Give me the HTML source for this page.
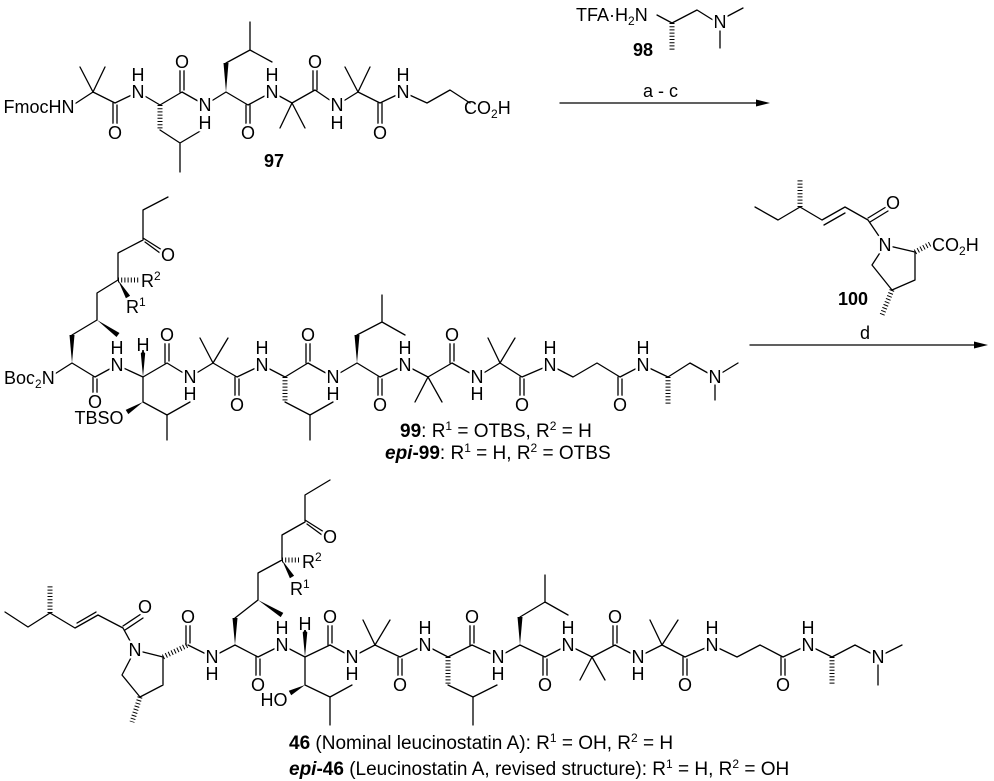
<!DOCTYPE html>
<html><head><meta charset="utf-8"><style>
html,body{margin:0;padding:0;background:#fff;}
svg{display:block;}
.b{stroke:#000;stroke-width:1.3;fill:none;stroke-linecap:round;stroke-linejoin:round;}
.h{stroke:#000;stroke-width:5;fill:none;stroke-dasharray:1 2.2;}
.w{fill:#000;stroke:none;}
text{font-family:"Liberation Sans",Arial,sans-serif;font-size:18px;fill:#000;}
.a{text-anchor:middle;dominant-baseline:central;stroke:#fff;stroke-width:5;paint-order:stroke;stroke-linejoin:round;}
.s{font-size:12px;}
.bd{font-weight:bold;}
.L{font-size:19px;}
</style></head><body>
<svg width="994" height="781" viewBox="0 0 994 781" xmlns="http://www.w3.org/2000/svg">
<!-- ===== Row 1: 97 ===== -->
<path class="b" d="M70,107 L93,92 L115,103 L138,92 L160,105 L182,92 L205,105 L226,92 L248,105 L272,92 L292,103 L315,90 L337,105 L358,92 L380,103 L403,92 L427,103 L450,90 L470,103"/>
<path class="b" d="M93,92 L80,67 M93,92 L105,67
M113,103 L113,125 M117,105 L117,125
M180,92 L180,70 M184,90 L184,70
M160,130 L180,143 L202,130 M180,143 L180,172
M226,63 L250,50 L250,22 M250,50 L272,62
M246,105 L246,125 M250,105 L250,125
M292,103 L280,128 M292,103 L305,128
M313,90 L313,70 M317,90 L317,70
M358,92 L345,67 M358,92 L370,67
M378,103 L378,125 M382,103 L382,125"/>
<path class="h" d="M160,105 L160,130"/>
<polygon class="w" points="226,92 223.5,63 228.5,63"/>
<text class="a" x="39" y="107">FmocHN</text>
<text class="a" x="115" y="133">O</text>
<text class="a" x="138" y="92">N</text><text class="a" x="138" y="75">H</text>
<text class="a" x="182" y="62">O</text>
<text class="a" x="205" y="105">N</text><text class="a" x="205" y="123">H</text>
<text class="a" x="248" y="133">O</text>
<text class="a" x="272" y="92">N</text><text class="a" x="272" y="75">H</text>
<text class="a" x="315" y="62">O</text>
<text class="a" x="337" y="105">N</text><text class="a" x="337" y="123">H</text>
<text class="a" x="380" y="133">O</text>
<text class="a" x="403" y="92">N</text><text class="a" x="403" y="75">H</text>
<text x="464" y="114">CO<tspan class="s" dy="4">2</tspan><tspan dy="-4">H</tspan></text>
<text class="bd" x="264" y="167">97</text>

<!-- 98 -->
<path class="b" d="M657,15 L672,23 L697,10 L713,20 M726,17 L743,8 M720,31 L720,48"/>
<path class="h" d="M672,23 L672,50"/>
<text x="576" y="21">TFA·H<tspan class="s" dy="4">2</tspan><tspan dy="-4">N</tspan></text>
<text class="a" x="720" y="22">N</text>
<text class="bd" x="633" y="56">98</text>
<!-- arrow 1 -->
<path class="b" d="M560,103 L760,103"/>
<polygon class="w" points="770,103 756,99.5 756,106.5"/>
<text x="643" y="97">a - c</text>

<!-- ===== Row 2: 99 ===== -->
<path class="b" d="M50,377 L72,363 L95,377 L117,365 L143,377 L167,363 L190,377 L213,363 L237,377 L262,365 L285,377 L308,363 L333,377 L357,363 L380,377 L405,365 L428,377 L452,363 L477,377 L500,363 L522,377 L550,365 L573,377 L597,363 L620,377 L643,365 L668,377 L690,363 L715,377 L738,363"/>
<path class="b" d="M72,335 L97,320 L97,293 L118,280 L118,253 L143,240 L143,210 L168,197
M143,238 L162,250 M145,242 L160,253
M143,377 L143,402 L167,415 L190,402 M167,415 L167,440
M93,377 L93,396 M97,379 L97,396
M165,363 L165,342 M169,361 L169,342
M213,363 L200,338 M213,363 L228,338
M235,377 L235,398 M239,379 L239,398
M285,402 L310,415 L333,402 M310,415 L310,440
M306,363 L306,342 M310,361 L310,342
M357,335 L382,322 L382,295 M382,322 L405,335
M378,377 L378,398 M382,379 L382,398
M428,377 L415,402 M428,377 L442,402
M450,363 L450,342 M454,361 L454,342
M500,363 L488,338 M500,363 L515,338
M520,377 L520,398 M524,379 L524,398
M618,377 L618,398 M622,379 L622,398
M715,385 L715,400"/>
<path class="h" d="M118,280 L140,280 M285,377 L285,402 M668,377 L668,405"/>
<polygon class="w" points="72,363 69.5,335 74.5,335"/>
<polygon class="w" points="97,320 116.5,337 119.5,333"/>
<polygon class="w" points="118,280 125.9,298.3 130.1,295.7"/>
<polygon class="w" points="143,377 140.5,350 145.5,350"/>
<polygon class="w" points="143,402 128.3,414.1 125.7,409.9"/>
<polygon class="w" points="357,363 354.5,335 359.5,335"/>
<text class="a" x="168" y="255">O</text>
<text x="141" y="287">R<tspan class="s" dy="-7">2</tspan></text>
<text x="126" y="313">R<tspan class="s" dy="-7">1</tspan></text>
<text x="4" y="384" style="stroke:#fff;stroke-width:5;paint-order:stroke">Boc<tspan class="s" dy="4">2</tspan><tspan dy="-4">N</tspan></text>
<text class="a" x="95" y="402">O</text>
<text class="a" x="99" y="418">TBSO</text>
<text class="a" x="117" y="365">N</text><text class="a" x="117" y="348">H</text>
<text class="a" x="143" y="345">H</text>
<text class="a" x="167" y="335">O</text>
<text class="a" x="190" y="377">N</text><text class="a" x="190" y="394">H</text>
<text class="a" x="237" y="405">O</text>
<text class="a" x="262" y="365">N</text><text class="a" x="262" y="348">H</text>
<text class="a" x="308" y="335">O</text>
<text class="a" x="333" y="377">N</text><text class="a" x="333" y="394">H</text>
<text class="a" x="380" y="405">O</text>
<text class="a" x="405" y="365">N</text><text class="a" x="405" y="348">H</text>
<text class="a" x="452" y="335">O</text>
<text class="a" x="477" y="377">N</text><text class="a" x="477" y="394">H</text>
<text class="a" x="522" y="405">O</text>
<text class="a" x="550" y="365">N</text><text class="a" x="550" y="348">H</text>
<text class="a" x="620" y="405">O</text>
<text class="a" x="643" y="365">N</text><text class="a" x="643" y="348">H</text>
<text class="a" x="715" y="377">N</text>
<text class="L" x="400" y="437"><tspan class="bd">99</tspan>: R<tspan class="s" dy="-7">1</tspan><tspan dy="7"> = OTBS, R</tspan><tspan class="s" dy="-7">2</tspan><tspan dy="7"> = H</tspan></text>
<text class="L" x="385" y="459"><tspan class="bd" font-style="italic">epi</tspan><tspan class="bd">-99</tspan>: R<tspan class="s" dy="-7">1</tspan><tspan dy="7"> = H, R</tspan><tspan class="s" dy="-7">2</tspan><tspan dy="7"> = OTBS</tspan></text>

<!-- 100 -->
<path class="b" d="M755,207 L778,220 L800,207 L822,220 L845,207 L868,220 L885,245
M824,225 L845,213
M868,218 L886,207 M870,222 L888,211
M885,245 L915,252 L915,280 L892,290 L872,265 L885,245"/>
<path class="h" d="M800,207 L800,180 M915,252 L932,243 M892,290 L882,315"/>
<text class="a" x="893" y="203">O</text>
<text class="a" x="885" y="245">N</text>
<text x="932" y="251">CO<tspan class="s" dy="4">2</tspan><tspan dy="-4">H</tspan></text>
<text class="bd" x="838" y="305">100</text>
<text x="860" y="339">d</text>
<path class="b" d="M750,345 L978,345"/>
<polygon class="w" points="988,345 974,341.5 974,348.5"/>

<!-- ===== Row 3: 46 ===== -->
<path class="b" d="M5,612 L28,627 L50,613 L75,628 L98,615 L123,628 L135,650
M77,623 L96,612
M123,626 L141,614 M125,630 L143,618
M135,650 L163,657 L163,685 L140,697 L122,675 L135,650
M188,645 L212,657 L235,645 L258,657 L282,645 L305,657 L330,645 L352,657 L375,645 L400,657 L425,645 L448,657 L472,645 L498,657 L520,645 L545,657 L568,645 L592,657 L615,645 L638,657 L662,645 L685,657 L712,645 L737,657 L760,645 L783,657 L808,645 L832,657 L855,645 L878,657 L902,645
M186,645 L186,624 M190,643 L190,624
M235,618 L258,600 L258,573 L282,560 L282,535 L305,522 L305,495 L330,480
M305,520 L324,532 M307,524 L322,535
M256,657 L256,678 M260,659 L260,678
M328,645 L328,624 M332,643 L332,624
M305,657 L305,685 L330,697 L352,685 M330,697 L330,725
M375,645 L363,620 M375,645 L390,620
M398,657 L398,678 M402,659 L402,678
M448,685 L473,697 L497,685 M473,697 L473,725
M470,645 L470,624 M474,643 L474,624
M520,617 L545,602 L545,575 M545,602 L568,615
M543,657 L543,678 M547,659 L547,678
M592,657 L580,680 M592,657 L605,680
M613,645 L613,624 M617,643 L617,624
M662,645 L650,620 M662,645 L678,620
M683,657 L683,678 M687,659 L687,678
M781,657 L781,678 M785,659 L785,678
M878,665 L878,685"/>
<path class="h" d="M50,613 L50,585 M140,697 L132,722 M163,657 L188,645 M282,560 L300,560 M448,657 L448,685 M832,657 L832,685"/>
<polygon class="w" points="235,645 232.5,618 237.5,618"/>
<polygon class="w" points="258,600 280.7,617.1 283.3,612.9"/>
<polygon class="w" points="282,560 289.9,578.3 294.1,575.7"/>
<polygon class="w" points="305,657 302.5,630 307.5,630"/>
<polygon class="w" points="305,685 291.2,695.2 288.8,690.8"/>
<polygon class="w" points="520,645 517.5,617 522.5,617"/>
<text class="a" x="145" y="607">O</text>
<text class="a" x="135" y="650">N</text>
<text class="a" x="188" y="617">O</text>
<text class="a" x="212" y="657">N</text><text class="a" x="212" y="674">H</text>
<text class="a" x="330" y="537">O</text>
<text x="302" y="568">R<tspan class="s" dy="-7">2</tspan></text>
<text x="290" y="595">R<tspan class="s" dy="-7">1</tspan></text>
<text class="a" x="258" y="685">O</text>
<text class="a" x="282" y="645">N</text><text class="a" x="282" y="628">H</text>
<text class="a" x="305" y="624">H</text>
<text class="a" x="330" y="617">O</text>
<text class="a" x="274" y="700">HO</text>
<text class="a" x="352" y="657">N</text><text class="a" x="352" y="674">H</text>
<text class="a" x="400" y="685">O</text>
<text class="a" x="425" y="645">N</text><text class="a" x="425" y="628">H</text>
<text class="a" x="472" y="617">O</text>
<text class="a" x="498" y="657">N</text><text class="a" x="498" y="674">H</text>
<text class="a" x="545" y="685">O</text>
<text class="a" x="568" y="645">N</text><text class="a" x="568" y="628">H</text>
<text class="a" x="615" y="617">O</text>
<text class="a" x="638" y="657">N</text><text class="a" x="638" y="674">H</text>
<text class="a" x="685" y="685">O</text>
<text class="a" x="712" y="645">N</text><text class="a" x="712" y="628">H</text>
<text class="a" x="783" y="685">O</text>
<text class="a" x="808" y="645">N</text><text class="a" x="808" y="628">H</text>
<text class="a" x="878" y="657">N</text>
<text class="L" x="289" y="749"><tspan class="bd">46</tspan> (Nominal leucinostatin A): R<tspan class="s" dy="-7">1</tspan><tspan dy="7"> = OH, R</tspan><tspan class="s" dy="-7">2</tspan><tspan dy="7"> = H</tspan></text>
<text class="L" x="289" y="775"><tspan class="bd" font-style="italic">epi</tspan><tspan class="bd">-46</tspan> (Leucinostatin A, revised structure): R<tspan class="s" dy="-7">1</tspan><tspan dy="7"> = H, R</tspan><tspan class="s" dy="-7">2</tspan><tspan dy="7"> = OH</tspan></text>
</svg>
</body></html>
